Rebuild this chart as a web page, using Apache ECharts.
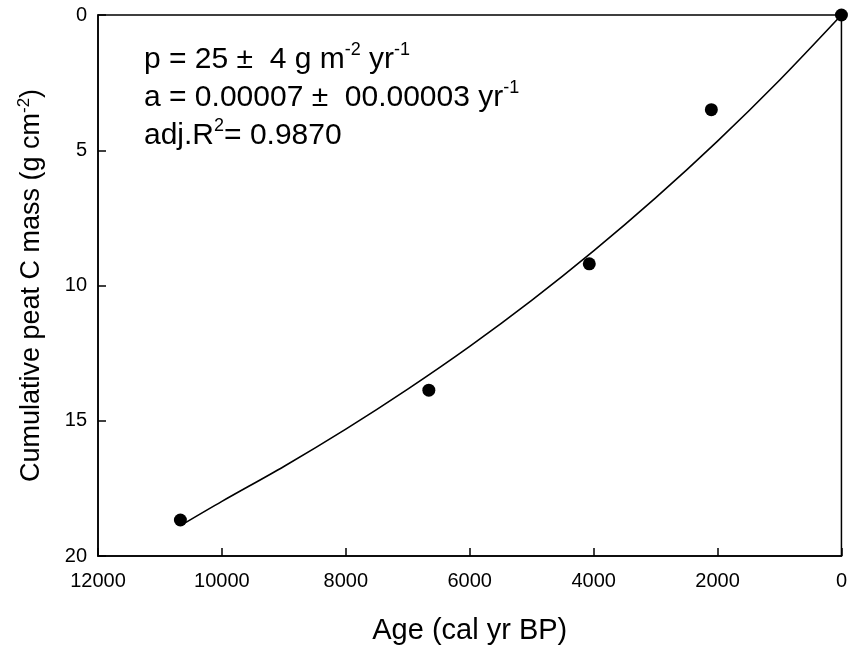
<!DOCTYPE html>
<html>
<head>
<meta charset="utf-8">
<script src="https://cdn.jsdelivr.net/npm/echarts@6/dist/echarts.min.js"></script>
<style>
	html,body{margin:0;padding:0;background:#fff;}
	#chart{width:850px;height:650px;}
</style>
</head>
<body>
<div id="chart"></div>
<script>
// measured cores: age (cal yr BP) and cumulative C mass (g cm-2)
var sampleAge = [0, 2100, 4070, 6660, 10670];
var sampleMass = [0, 3.5, 9.2, 13.87, 18.67];

// fitted curve
var curveAge = [0, 1000, 2000, 3000, 4000, 5000, 6000, 7000, 8000, 9000, 10000, 10650];
var curveMass = [0, 2.41, 4.66, 6.76, 8.72, 10.55, 12.25, 13.83, 15.31, 16.69, 17.98, 18.85];

var xTicks = [0, 12000, 2000];
var yTicks = [0, 20, 5];

var font = 'Liberation Sans, Arial, sans-serif';

function pairs(xs, ys){
	var out = [];
	for(var i=0;i<xs.length;i++){
		out.push([xs[i], ys[i]]);
	}
	return out;
}

var myChart = echarts.init(document.getElementById('chart'));
var option = {
	backgroundColor: '#fff',
	animation: false,
	textStyle: {fontFamily: font},
	grid: {
		left: 98,
		right: 1,
		top: 15,
		bottom: 94,
		show: true,
		borderColor: '#000',
		borderWidth: 1.5
	},
	xAxis: {
		type: 'value',
		min: xTicks[0],
		max: xTicks[1],
		interval: xTicks[2],
		inverse: true,
		name: 'Age (cal yr BP)',
		nameLocation: 'middle',
		nameGap: 60,
		nameTextStyle: {fontSize: 29, color: '#000', fontFamily: font},
		axisLine: {onZero: false, lineStyle: {color: '#000', width: 1.5}},
		axisTick: {inside: true, length: 8, lineStyle: {color: '#000', width: 1.5}},
		axisLabel: {
			fontSize: 20, color: '#000', margin: 15, fontFamily: font,
			formatter: function(v){ return String(v); }
		},
		splitLine: {show: false}
	},
	yAxis: {
		type: 'value',
		min: yTicks[0],
		max: yTicks[1],
		interval: yTicks[2],
		inverse: true,
		name: '{t|Cumulative peat C mass (g cm}{s|-2}{t|)}',
		nameLocation: 'middle',
		nameGap: 50,
		nameRotate: 90,
		nameTextStyle: {
			fontFamily: font,
			rich: {
				t: {fontSize: 27, color: '#000', fontFamily: font, lineHeight: 32},
				s: {fontSize: 17, color: '#000', fontFamily: font, verticalAlign: 'top', lineHeight: 32}
			}
		},
		axisLine: {onZero: false, lineStyle: {color: '#000', width: 1.5}},
		axisTick: {inside: true, length: 8, lineStyle: {color: '#000', width: 1.5}},
		axisLabel: {fontSize: 20, color: '#000', margin: 11, fontFamily: font},
		splitLine: {show: false}
	},
	graphic: [
		{
			type: 'text',
			left: 144,
			top: 41,
			style: {
				text: '{t|p = 25 \u00b1  4 g m}{s|-2}{t| yr}{s|-1}\n{t|a = 0.00007 \u00b1  00.00003 yr}{s|-1}\n{t|adj.R}{s|2}{t|= 0.9870}',
				fontFamily: font,
				rich: {
					t: {fontSize: 30, fill: '#000', fontFamily: font, lineHeight: 38},
					s: {fontSize: 18, fill: '#000', fontFamily: font, lineHeight: 38, verticalAlign: 'top', padding: [0, 0, 0, 0]}
				}
			}
		}
	],
	series: [
		{
			name: 'fit',
			type: 'line',
			data: pairs(curveAge, curveMass),
			smooth: 0.3,
			showSymbol: false,
			lineStyle: {color: '#000', width: 1.6},
			z: 2
		},
		{
			name: 'samples',
			type: 'scatter',
			data: pairs(sampleAge, sampleMass),
			symbol: 'circle',
			symbolSize: 13,
			itemStyle: {color: '#000', opacity: 1},
			clip: false,
			z: 3
		}
	]
};
myChart.setOption(option);
</script>
</body>
</html>
